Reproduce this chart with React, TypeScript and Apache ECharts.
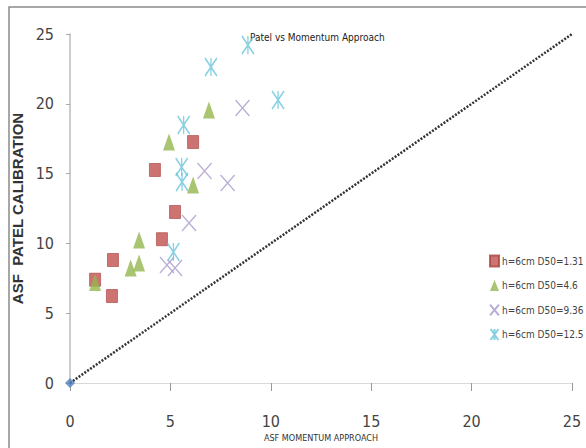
import React, { useEffect, useRef } from "react";
import * as echarts from "echarts";

const seriesNames = ["h=6cm D50=1.31", "h=6cm D50=4.6", "h=6cm D50=9.36", "h=6cm D50=12.5"];
const d131: number[][] = [[1.25, 7.4], [2.09, 6.23], [2.14, 8.81], [4.23, 15.26], [4.58, 10.3], [5.23, 12.25], [6.13, 17.26]];
const d46: number[][] = [[1.25, 7.2], [3.02, 8.24], [3.44, 8.6], [3.44, 10.24], [4.93, 17.26], [6.13, 14.18], [6.92, 19.56]];
const d936: number[][] = [[4.83, 8.45], [5.23, 8.24], [5.93, 11.46], [6.7, 15.19], [7.85, 14.33], [8.59, 19.7]];
const d125: number[][] = [[5.15, 9.38], [5.56, 15.47], [5.58, 14.4], [5.66, 18.48], [7.02, 22.64], [8.86, 24.21], [10.36, 20.27]];
const equalityLine: number[][] = [[0, 0], [25, 25]];
const originPoint: number[][] = [[0, 0]];

const narrow = "'Liberation Sans Narrow', 'DejaVu Sans Condensed', 'Liberation Sans', sans-serif";

export default function App() {
  const ref = useRef<HTMLDivElement>(null);
  useEffect(() => {
    if (!ref.current) return;
    const chart = echarts.init(ref.current, undefined, { renderer: "svg" });
    chart.setOption({
      animation: false,
      backgroundColor: "#fff",
      title: {
        text: "Patel vs Momentum Approach",
        left: 245,
        top: 27,
        textStyle: { fontSize: 10, fontWeight: "normal", color: "#222", fontFamily: narrow },
      },
      graphic: [
        {
          type: "rect",
          shape: { x: 9, y: 7, width: 700, height: 700 },
          style: { fill: "none", stroke: "#8a8a8a", lineWidth: 1.5 },
          silent: true,
        },
      ],
      legend: {
        orient: "vertical",
        left: 484,
        top: 249,
        itemWidth: 9,
        itemHeight: 11,
        itemGap: 10.5,
        data: seriesNames,
        textStyle: { fontSize: 10, color: "#444", fontFamily: narrow, lineHeight: 14, padding: [0, 0, 0, -2] },
      },
      grid: { left: 70, right: 14, top: 34, bottom: 65 },
      xAxis: {
        type: "value",
        min: 0,
        max: 25,
        interval: 5,
        name: "ASF MOMENTUM APPROACH",
        nameLocation: "middle",
        nameGap: 46,
        nameTextStyle: { fontSize: 9, color: "#333", fontFamily: narrow },
        splitLine: { show: false },
        axisLine: { lineStyle: { color: "#d9d9d9", width: 1 } },
        axisTick: { show: true, length: 8, lineStyle: { color: "#999" } },
        axisLabel: { margin: 30, fontSize: 16, color: "#444", fontFamily: narrow },
      },
      yAxis: {
        type: "value",
        min: 0,
        max: 25,
        interval: 5,
        name: "ASF  PATEL CALIBRATION",
        nameLocation: "middle",
        nameRotate: 90,
        nameGap: 44,
        nameTextStyle: { fontSize: 15, fontWeight: "bold", color: "#333", fontFamily: "'Liberation Sans', Arial, sans-serif" },
        splitLine: { show: false },
        axisLine: { show: true, lineStyle: { color: "#bbb", width: 1.5 } },
        axisTick: { show: true, length: 4, lineStyle: { color: "#aaa" } },
        axisLabel: { margin: 16, fontSize: 16, color: "#444", fontFamily: narrow },
      },
      series: [
        {
          type: "line",
          data: equalityLine,
          showSymbol: false,
          symbol: "none",
          lineStyle: { color: "#333", width: 2.5, type: [2, 1.5] },
          silent: true,
          z: 1,
        },
        {
          type: "scatter",
          data: originPoint,
          symbol: "diamond",
          symbolSize: 10,
          itemStyle: { color: "#4F81BD" },
          z: 3,
        },
        {
          name: seriesNames[0],
          type: "scatter",
          data: d131,
          symbol: "rect",
          symbolSize: [11, 13],
          itemStyle: { color: "#C0504D", borderColor: "#A84340", borderWidth: 0.8 },
          z: 4,
        },
        {
          name: seriesNames[1],
          type: "scatter",
          data: d46,
          symbol: "triangle",
          symbolSize: [12, 17],
          itemStyle: { color: "#93B64E" },
          z: 5,
        },
        {
          name: seriesNames[2],
          type: "scatter",
          data: d936,
          symbol: "path://M0,0L10,12M10,0L0,12",
          symbolSize: [14, 16],
          itemStyle: { color: "#A898CC", borderColor: "#A898CC", borderWidth: 1.4 },
          z: 6,
        },
        {
          name: seriesNames[3],
          type: "scatter",
          data: d125,
          symbol: "path://M0,0L10,14M10,0L0,14M5,0L5,14",
          symbolSize: [12, 18],
          itemStyle: { color: "#6CC4DC", borderColor: "#6CC4DC", borderWidth: 1.6 },
          z: 7,
        },
      ],
    });
    return () => chart.dispose();
  }, []);
  return <div ref={ref} style={{ position: "fixed", left: 0, top: 0, width: 586, height: 448 }} />;
}
